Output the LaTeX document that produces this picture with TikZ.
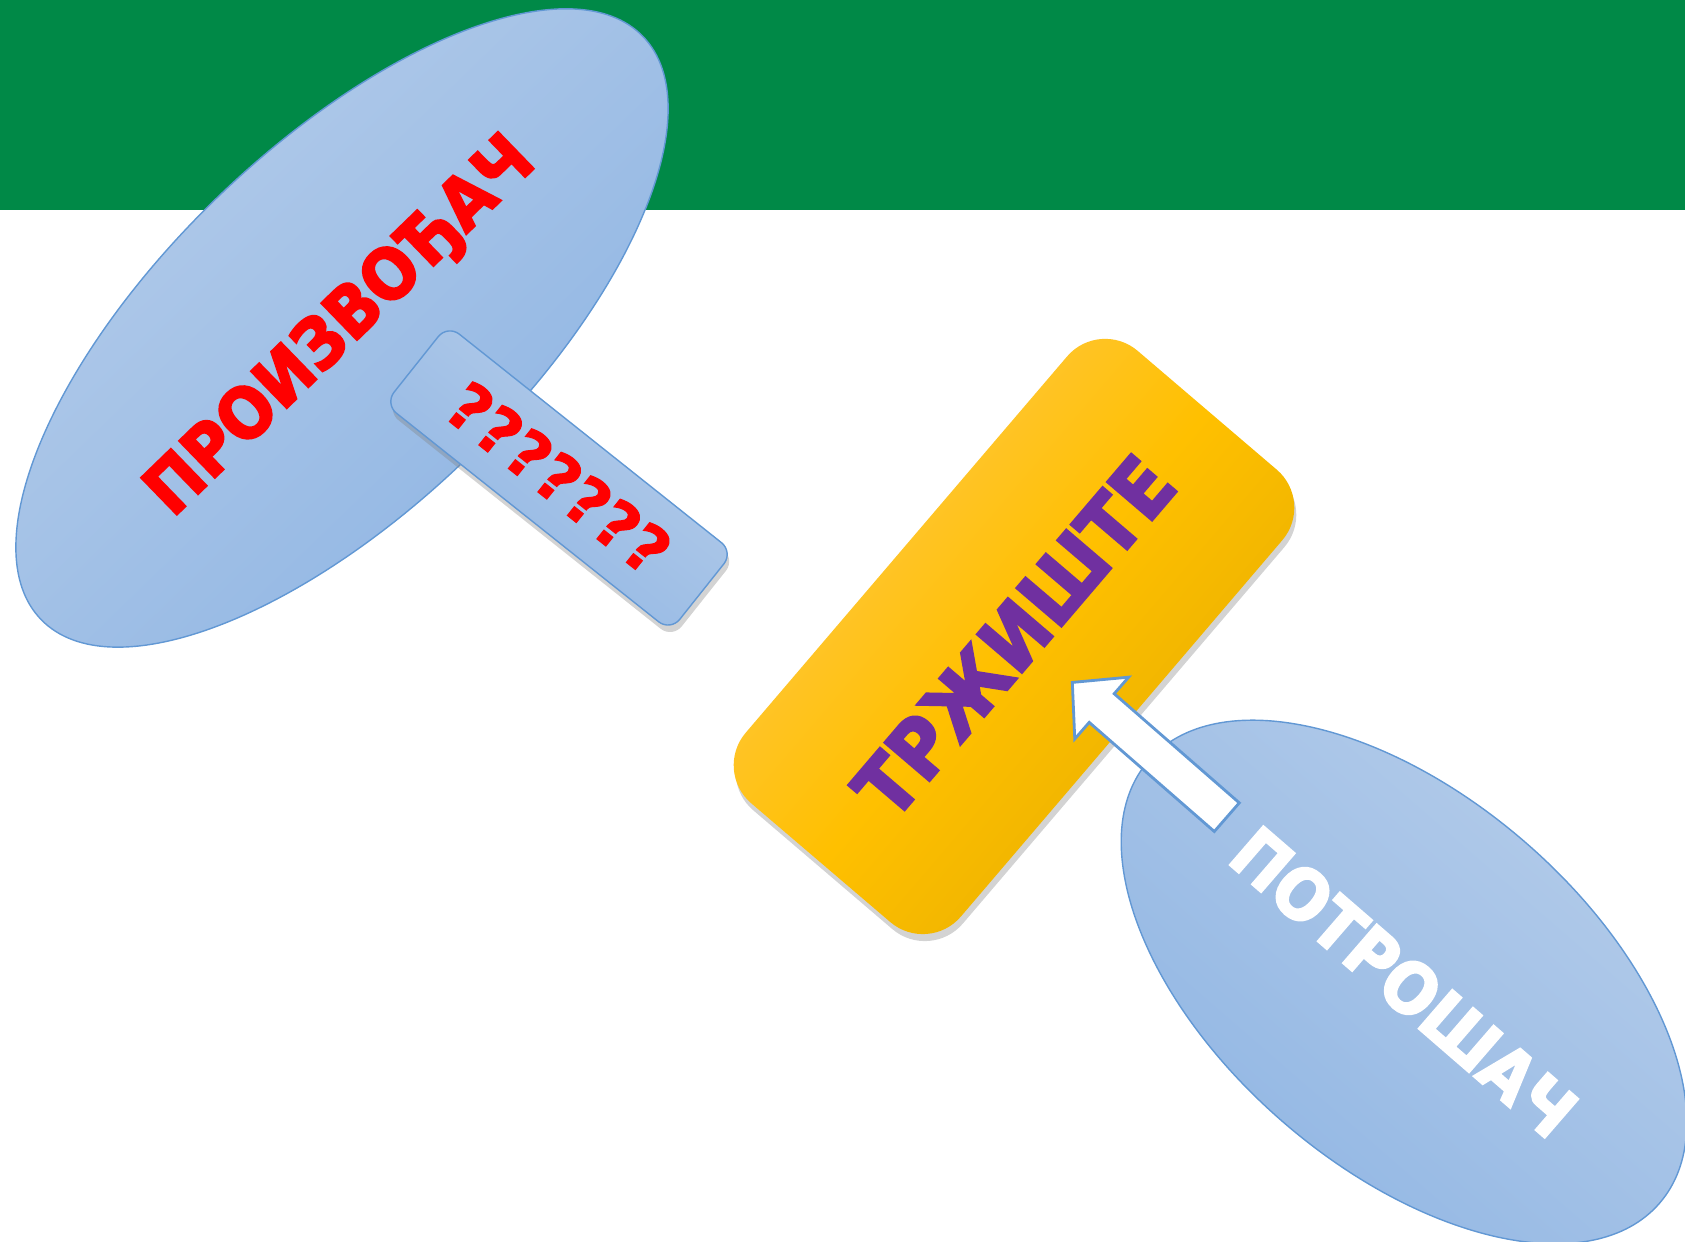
\documentclass[tikz,border=0pt]{standalone}
\usepackage{fontspec}
\setmainfont{DejaVu Sans}
\newfontfamily\heavyfont{DejaVu Sans Condensed Bold}[FakeBold=3]
\newfontfamily\markfont{DejaVu Sans Bold}[FakeBold=1.5]
\usetikzlibrary{shapes.geometric,shadows}

\definecolor{bandgreen}{RGB}{0,137,71}
\definecolor{bluelight}{RGB}{182,205,234}
\definecolor{bluedark}{RGB}{143,181,227}
\definecolor{blueline}{RGB}{98,152,212}
\definecolor{goldlight}{RGB}{255,200,80}
\definecolor{goldmid}{RGB}{255,192,0}
\definecolor{golddark}{RGB}{228,172,0}
\definecolor{marketpurple}{RGB}{112,48,160}

\begin{document}
\begin{tikzpicture}[
  blueshape/.style={draw=blueline, line width=0.4pt, top color=bluelight, bottom color=bluedark, inner sep=0pt},
  bigword/.style={font=\heavyfont\fontsize{20}{20}\selectfont},
  softshadow/.style={drop shadow={opacity=0.35, shadow xshift=0.02cm, shadow yshift=-0.07cm}},
  arrowbody/.style={draw=blueline, line width=0.8pt, fill=white, line join=miter}
]
\pgfmathsetmacro{\W}{16.85}
\pgfmathsetmacro{\H}{12.42}

\useasboundingbox (0,0) rectangle (\W,\H);
\fill[bandgreen] (0,10.32) rectangle (\W,\H);

% producer and its question label
\node[blueshape, shading angle=44.1, ellipse, minimum width=8.38cm, minimum height=3.61cm, rotate=44.1,
  text=red, bigword] (producer) at (3.42,9.14) {ПРОИЗВОЂАЧ};
\node[blueshape, shading angle=-38.5, rectangle, rounded corners=0.15cm, minimum width=3.65cm, minimum height=1.01cm,
  rotate=-38.5, softshadow, text=red, font=\markfont\fontsize{18.5}{18.5}\selectfont] (question) at (5.59,7.64) {???????};

% market
\node[rectangle, rounded corners=0.5cm, minimum width=5.95cm, minimum height=2.83cm, rotate=49.5,
  top color=goldlight, bottom color=golddark, middle color=goldmid, shading angle=49.5, softshadow,
  text=marketpurple, font=\heavyfont\fontsize{23}{23}\selectfont] (market) at (10.14,6.055) {ТРЖИШТЕ};

% consumer
\node[blueshape, shading angle=-40.9, ellipse, minimum width=6.76cm, minimum height=3.70cm, rotate=-40.9,
  text=white, bigword] (consumer) at (14.04,2.60) {ПОТРОШАЧ};

\coordinate (arrowtail) at (12.268,4.248);
\begin{scope}[shift={(arrowtail)}, rotate=138.9]
\draw[arrowbody] (0,-0.19) -- (1.66,-0.19) -- (1.66,-0.41) -- (2.05,0) -- (1.66,0.41) -- (1.66,0.19) -- (0,0.19) -- cycle;
\end{scope}
\end{tikzpicture}
\end{document}
